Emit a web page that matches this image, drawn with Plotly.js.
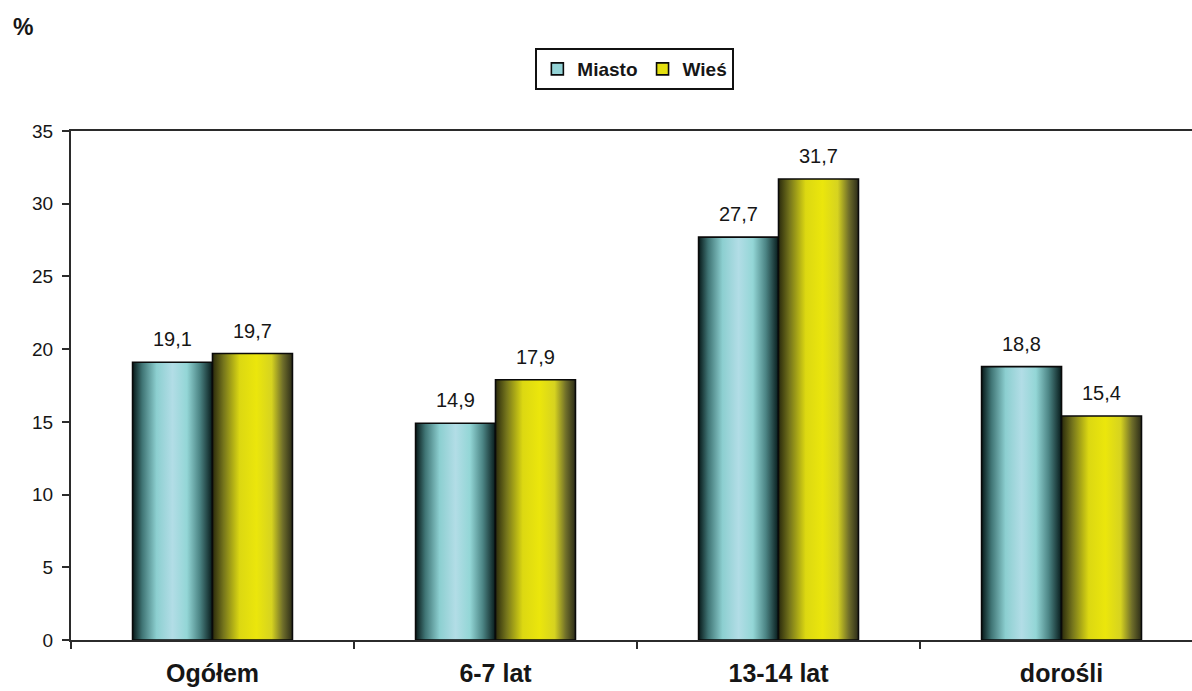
<!DOCTYPE html>
<html>
<head>
<meta charset="utf-8">
<script src="https://cdn.plot.ly/plotly-3.0.1.min.js"></script>
<style>
  html, body { margin: 0; padding: 0; background: #ffffff; overflow: hidden; }
  #chart { width: 1192px; height: 691px; }
</style>
</head>
<body>
<div id="chart"></div>
<script>
// Odsetek osób wg miejsca zamieszkania i grupy wiekowej
const categories = ['Ogółem', '6-7 lat', '13-14 lat', 'dorośli'];
const miasto = [19.1, 14.9, 27.7, 18.8];
const wies = [19.7, 17.9, 31.7, 15.4];
const seriesNames = ['Miasto', 'Wieś'];

const FONT = '"Liberation Sans", Arial, Helvetica, sans-serif';
const TEXT = '#161616';

const traces = [
  {
    type: 'bar', name: seriesNames[0], x: categories, y: miasto,
    marker: { color: '#93d3d6', line: { color: '#0a0a0a', width: 1.6 } },
    hoverinfo: 'none'
  },
  {
    type: 'bar', name: seriesNames[1], x: categories, y: wies,
    marker: { color: '#e4e010', line: { color: '#0a0a0a', width: 1.6 } },
    hoverinfo: 'none'
  }
];

// Value labels above each bar (Polish decimal comma)
const fmt = v => v.toFixed(1).replace('.', ',');
const annotations = [];
[miasto, wies].forEach((vals, s) => {
  vals.forEach((v, i) => {
    annotations.push({
      x: categories[i], y: v, xref: 'x', yref: 'y',
      text: fmt(v), showarrow: false,
      xshift: s === 0 ? -40 : 40, yshift: 10, yanchor: 'bottom',
      font: { family: FONT, size: 20, color: TEXT }
    });
  });
});
annotations.push({
  x: -0.043, y: 1.205, xref: 'paper', yref: 'paper',
  text: '%', showarrow: false, xanchor: 'center', yanchor: 'middle',
  font: { family: FONT, size: 23, color: TEXT, weight: 'bold' }
});

const layout = {
  width: 1192, height: 691,
  margin: { l: 71, r: 0, t: 131, b: 51 },
  paper_bgcolor: '#ffffff', plot_bgcolor: '#ffffff',
  font: { family: FONT, color: TEXT },
  barmode: 'group', bargap: 0.435, bargroupgap: 0,
  showlegend: true,
  legend: {
    orientation: 'h', x: 0.503, xanchor: 'center', y: 1.163, yanchor: 'top',
    bordercolor: '#111111', borderwidth: 2, bgcolor: '#ffffff',
    font: { family: FONT, size: 19, color: TEXT, weight: 'bold' },
    itemwidth: 30, traceorder: 'normal'
  },
  xaxis: {
    type: 'category', range: [-0.5, 3.461],
    showline: true, linecolor: '#2b2b2b', linewidth: 2, mirror: true,
    ticks: 'outside', tickson: 'boundaries', ticklen: 7, tickwidth: 2, tickcolor: '#2b2b2b',
    ticklabelstandoff: 10,
    tickfont: { family: FONT, size: 25, color: TEXT, weight: 'bold' },
    showgrid: false, zeroline: false, fixedrange: true
  },
  yaxis: {
    range: [0, 35], dtick: 5, tick0: 0,
    showline: true, linecolor: '#2b2b2b', linewidth: 2,
    ticks: 'outside', ticklen: 7, tickwidth: 2, tickcolor: '#2b2b2b',
    ticklabelstandoff: 5,
    tickfont: { family: FONT, size: 19, color: TEXT },
    showgrid: false, zeroline: false, fixedrange: true
  },
  annotations: annotations
};

// Horizontal shading used for the bar bodies
const gradients = {
  gMiasto: [
    [0, '#071818'], [0.12, '#3f7474'], [0.3, '#8ccfd0'], [0.5, '#b2dde6'],
    [0.68, '#93d6d6'], [0.84, '#4c8585'], [1, '#071a1a']
  ],
  gWies: [
    [0, '#2a2a0c'], [0.14, '#76761c'], [0.34, '#dcd812'], [0.55, '#ebe60c'],
    [0.74, '#d6d320'], [0.88, '#6f6e2a'], [1, '#2c2c18']
  ]
};

Plotly.newPlot('chart', traces, layout, { displayModeBar: false, staticPlot: true }).then(gd => {
  const svgNS = 'http://www.w3.org/2000/svg';
  const svg = gd.querySelector('svg.main-svg');
  let defs = svg.querySelector('defs');
  if (!defs) { defs = document.createElementNS(svgNS, 'defs'); svg.insertBefore(defs, svg.firstChild); }
  Object.keys(gradients).forEach(id => {
    const lg = document.createElementNS(svgNS, 'linearGradient');
    lg.setAttribute('id', id);
    lg.setAttribute('x1', '0'); lg.setAttribute('x2', '1');
    lg.setAttribute('y1', '0'); lg.setAttribute('y2', '0');
    gradients[id].forEach(([o, c]) => {
      const st = document.createElementNS(svgNS, 'stop');
      st.setAttribute('offset', o);
      st.setAttribute('stop-color', c);
      lg.appendChild(st);
    });
    defs.appendChild(lg);
  });
  const ids = ['gMiasto', 'gWies'];
  gd.querySelectorAll('.barlayer .trace.bars').forEach((tr, k) => {
    tr.querySelectorAll('.point path').forEach(p => { p.style.fill = 'url(#' + ids[k] + ')'; });
  });
});
</script>
</body>
</html>
